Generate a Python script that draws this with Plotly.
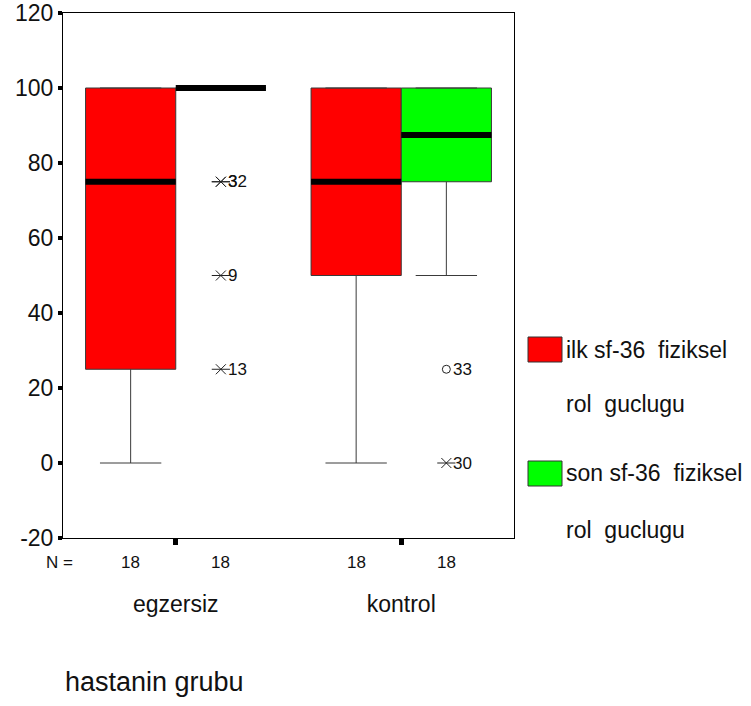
import numpy as np
import plotly.graph_objects as go

# ---------------- data ----------------
groups = ["egzersiz", "kontrol"]
series_names = ["ilk sf-36  fiziksel rol  guclugu", "son sf-36  fiziksel rol  guclugu"]
legend_line1 = ["ilk sf-36  fiziksel", "son sf-36  fiziksel"]
legend_line2 = ["rol  guclugu", "rol  guclugu"]
series_colors = ["#ff0000", "#00ff00"]

ilk_q1 = [25, 50]
ilk_median = [75, 75]
ilk_q3 = [100, 100]
ilk_lower = [0, 0]
ilk_upper = [100, 100]

son_q1 = [100, 75]
son_median = [100, 87.5]
son_q3 = [100, 100]
son_lower = [100, 50]
son_upper = [100, 100]

n_ilk = [18, 18]
n_son = [18, 18]

# outliers of "son" series: group index, value, case label, kind
out_group = [0, 0, 0, 0, 1, 1]
out_value = [75, 75, 50, 25, 25, 0]
out_case = ["32", "3", "9", "13", "33", "30"]
out_kind = ["extreme", "extreme", "extreme", "extreme", "outlier", "extreme"]

y_ticks = [-20, 0, 20, 40, 60, 80, 100, 120]
y_tick_text = ["-20", "0", "20", "40", "60", "80", "100", "120"]

# ---------------- layout constants ----------------
W, H = 751, 706
ML, MR, MT, MB = 63, 237, 13, 168
PW = W - ML - MR
PH = H - MT - MB
BOX_W = 0.4
FONT = "Liberation Sans, Arial, sans-serif"
INK = "#222"


def px2x(px):
    return (px - ML) / PW


def px2y(py):
    return (H - MB - py) / PH


pos = np.arange(len(groups))
ilk_x = pos - BOX_W / 2
son_x = pos + BOX_W / 2

fig = go.Figure()

for xs, q1, med, q3, lo, hi, col, name in [
    (ilk_x, ilk_q1, ilk_median, ilk_q3, ilk_lower, ilk_upper, series_colors[0], series_names[0]),
    (son_x, son_q1, son_median, son_q3, son_lower, son_upper, series_colors[1], series_names[1]),
]:
    fig.add_trace(go.Box(
        x=list(xs), q1=q1, median=med, q3=q3, lowerfence=lo, upperfence=hi,
        width=BOX_W, whiskerwidth=0.68, fillcolor=col,
        line=dict(color="#3a3a3a", width=1), boxpoints=False,
        name=name, showlegend=False, hoverinfo="skip",
    ))

# thick medians
for xs, med in [(ilk_x, ilk_median), (son_x, son_median)]:
    mx, my = [], []
    for xc, m in zip(xs, med):
        mx += [xc - BOX_W / 2, xc + BOX_W / 2, None]
        my += [m, m, None]
    fig.add_trace(go.Scatter(x=mx, y=my, mode="lines",
                             line=dict(color="black", width=6),
                             showlegend=False, hoverinfo="skip"))

# outliers
ox = [son_x[g] for g in out_group]
ext_x = [x for x, k in zip(ox, out_kind) if k == "extreme"]
ext_y = [v for v, k in zip(out_value, out_kind) if k == "extreme"]
oth_x = [x for x, k in zip(ox, out_kind) if k == "outlier"]
oth_y = [v for v, k in zip(out_value, out_kind) if k == "outlier"]

for sym, sz in [("x-thin-open", 10), ("line-ew-open", 13)]:
    fig.add_trace(go.Scatter(x=ext_x, y=ext_y, mode="markers",
                             marker=dict(symbol=sym, size=sz, color=INK,
                                         line=dict(color=INK, width=1)),
                             showlegend=False, hoverinfo="skip"))
fig.add_trace(go.Scatter(x=oth_x, y=oth_y, mode="markers",
                         marker=dict(symbol="circle-open", size=8, color=INK,
                                     line=dict(color=INK, width=1)),
                         showlegend=False, hoverinfo="skip"))

for x, v, c in zip(ox, out_value, out_case):
    fig.add_annotation(x=x, y=v, xref="x", yref="y", text=c, showarrow=False,
                       xanchor="left", yanchor="middle", xshift=5,
                       font=dict(family=FONT, size=17, color="#111"))

# N row
fig.add_annotation(x=px2x(75), y=px2y(562), xref="paper", yref="paper", text="N =",
                   showarrow=False, xanchor="right", yanchor="middle",
                   font=dict(family=FONT, size=17, color="#111"))
for xs, ns in [(ilk_x, n_ilk), (son_x, n_son)]:
    for xc, n in zip(xs, ns):
        fig.add_annotation(x=xc, y=px2y(562), xref="x", yref="paper", text=str(n),
                           showarrow=False, xanchor="center", yanchor="middle",
                           font=dict(family=FONT, size=17, color="#111"))

# axis title
fig.add_annotation(x=px2x(63), y=px2y(682), xref="paper", yref="paper", text="hastanin grubu",
                   showarrow=False, xanchor="left", yanchor="middle",
                   font=dict(family=FONT, size=27, color="#111"))

# legend (manual)
leg_rows = [(337, 362, 350, 404), (461, 486, 473, 530)]
for (y0, y1, t1, t2), col, l1, l2 in zip(leg_rows, series_colors, legend_line1, legend_line2):
    fig.add_shape(type="rect", xref="paper", yref="paper",
                  x0=px2x(528), x1=px2x(562), y0=px2y(y1), y1=px2y(y0),
                  fillcolor=col, line=dict(color="#333", width=1))
    fig.add_annotation(x=px2x(564), y=px2y(t1), xref="paper", yref="paper", text=l1,
                       showarrow=False, xanchor="left", yanchor="middle",
                       font=dict(family=FONT, size=23, color="#111"))
    fig.add_annotation(x=px2x(564), y=px2y(t2), xref="paper", yref="paper", text=l2,
                       showarrow=False, xanchor="left", yanchor="middle",
                       font=dict(family=FONT, size=23, color="#111"))

fig.update_layout(
    width=W, height=H,
    margin=dict(l=ML, r=MR, t=MT, b=MB, pad=0, autoexpand=False),
    paper_bgcolor="white", plot_bgcolor="white",
    boxmode="overlay",
    font=dict(family=FONT, color="#111"),
    showlegend=False,
)
fig.update_xaxes(range=[-0.5, 1.5], tickvals=list(pos), ticktext=groups,
                 ticks="outside", ticklen=6, tickwidth=5, tickcolor="black",
                 showline=True, linecolor="black", linewidth=1, mirror=True,
                 showgrid=False, zeroline=False, ticklabelstandoff=39, automargin=False,
                 tickfont=dict(family=FONT, size=23, color="#111"))
fig.update_yaxes(range=[-20, 120], tickvals=y_ticks, ticktext=y_tick_text,
                 ticks="outside", ticklen=4, tickwidth=4, tickcolor="black",
                 showline=True, linecolor="black", linewidth=1, mirror=True,
                 showgrid=False, zeroline=False, automargin=False,
                 tickfont=dict(family=FONT, size=23, color="#111"))

fig.write_html("out.html")
